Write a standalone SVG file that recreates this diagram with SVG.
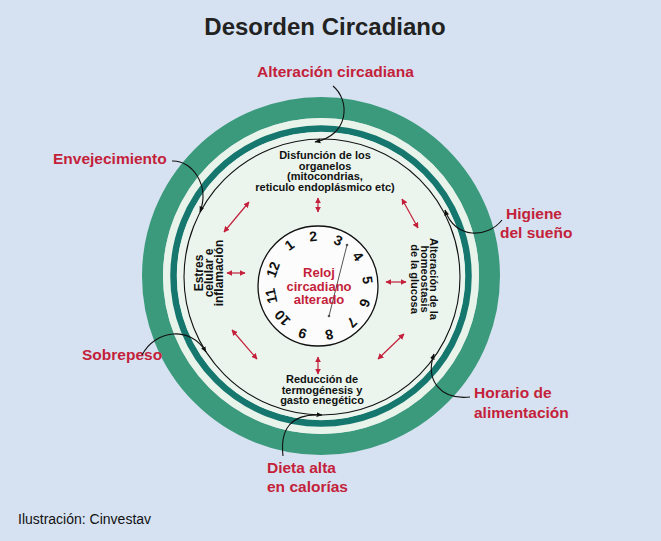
<svg xmlns="http://www.w3.org/2000/svg" width="661" height="541" viewBox="0 0 661 541">
<defs>
<style>
.lbl{font-family:"Liberation Sans",Arial,sans-serif;font-weight:bold;font-size:15.5px;fill:#c41f3b}
.in{font-family:"Liberation Sans",Arial,sans-serif;font-weight:bold;font-size:11px;fill:#111;text-anchor:middle}
.side{font-family:"Liberation Sans",Arial,sans-serif;font-weight:bold;font-size:11px;fill:#111;text-anchor:middle}
.num{font-family:"Liberation Sans",Arial,sans-serif;font-weight:bold;font-size:14px;fill:#111;text-anchor:middle;dominant-baseline:central}
.red{stroke:#c41f3b;stroke-width:1.2;fill:none;marker-start:url(#ra);marker-end:url(#ra)}
.con{stroke:#111;stroke-width:1.1;fill:none;marker-end:url(#ba)}
</style>
<marker id="ra" viewBox="0 0 10 10" refX="9" refY="5" markerWidth="6" markerHeight="6" markerUnits="userSpaceOnUse" orient="auto-start-reverse">
<path d="M0,0 L10,5 L0,10 Z" fill="#c41f3b"/>
</marker>
<marker id="ba" viewBox="0 0 10 10" refX="9" refY="5" markerWidth="6" markerHeight="6" markerUnits="userSpaceOnUse" orient="auto">
<path d="M0,1 L10,5 L0,9 Z" fill="#111"/>
</marker>
</defs>
<rect width="661" height="541" fill="#d6e2f1"/>
<text x="325" y="35" text-anchor="middle" style="font-family:'Liberation Sans',Arial,sans-serif;font-weight:bold;font-size:24px;fill:#222">Desorden Circadiano</text>

<g id="rings">
<circle cx="321" cy="276" r="168.5" fill="none" stroke="#3b9a7c" stroke-width="21"/>
<circle cx="321" cy="276" r="158" fill="#e8f3ea"/>
<circle cx="321" cy="276" r="147.5" fill="none" stroke="#16776f" stroke-width="6.5"/>
<circle cx="321" cy="276" r="144" fill="#ebf5ee"/>
<circle cx="322" cy="277" r="138" fill="none" stroke="#111" stroke-width="1.1"/>
</g>

<g id="clock">
<circle cx="318" cy="286" r="60" fill="#fbfcfb" stroke="#111" stroke-width="1.3"/>
<g transform="translate(318,286)">
<text class="num" transform="rotate(-35) translate(0,-50)">1</text>
<text class="num" transform="rotate(-5.5) translate(0,-50)">2</text>
<text class="num" transform="rotate(24) translate(0,-50)">3</text>
<text class="num" transform="rotate(53.5) translate(0,-50)">4</text>
<text class="num" transform="rotate(83) translate(0,-50)">5</text>
<text class="num" transform="rotate(110) translate(0,-50)">6</text>
<text class="num" transform="rotate(137) translate(0,-50)">7</text>
<text class="num" transform="rotate(167) translate(0,-50)">8</text>
<text class="num" transform="rotate(198) translate(0,-50)">9</text>
<text class="num" transform="rotate(228) translate(0,-48)">10</text>
<text class="num" transform="rotate(258) translate(0,-48)">11</text>
<text class="num" transform="rotate(290) translate(0,-48)">12</text>
</g>
<line x1="347" y1="245" x2="329" y2="316" stroke="#555" stroke-width="1"/>
<circle cx="347" cy="245" r="1.3" fill="#555"/>
<circle cx="329" cy="316" r="1.3" fill="#555"/>
<text text-anchor="middle" style="font-family:'Liberation Sans',Arial,sans-serif;font-weight:bold;font-size:13px;fill:#c41f3b"><tspan x="319" y="277">Reloj</tspan><tspan x="319" y="290.5">circadiano</tspan><tspan x="319" y="304">alterado</tspan></text>
</g>

<g id="organelos"><text class="in"><tspan x="325" y="159">Disfunción de los</tspan><tspan x="325" y="169.5">organelos</tspan><tspan x="325" y="180">(mitocondrias,</tspan><tspan x="325" y="190.5">reticulo endoplásmico etc)</tspan></text></g>
<g id="termogenesis"><text class="in"><tspan x="322" y="383">Reducción de</tspan><tspan x="322" y="393.5">termogénesis y</tspan><tspan x="322" y="404">gasto enegético</tspan></text></g>
<g id="estres"><text class="side" style="font-size:12px" transform="translate(203,273) rotate(-90)"><tspan x="0" y="0">Estres</tspan><tspan x="0" y="10.2">celular e</tspan><tspan x="0" y="20.4">inflamación</tspan></text></g>
<g id="glucosa"><text class="side" transform="translate(430,279) rotate(90)"><tspan x="0" y="0">Alteración de la</tspan><tspan x="0" y="9.5">homeostasis</tspan><tspan x="0" y="19">de la glucosa</tspan></text></g>

<g id="alteracion"><text class="lbl" x="257" y="77">Alteración circadiana</text></g>
<g id="envejecimiento"><text class="lbl" x="53" y="164">Envejecimiento</text></g>
<g id="higiene"><text class="lbl"><tspan x="506" y="219">Higiene</tspan><tspan x="500" y="238">del sueño</tspan></text></g>
<g id="sobrepeso"><text class="lbl" x="82" y="360">Sobrepeso</text></g>
<g id="horario"><text class="lbl"><tspan x="474" y="398">Horario de</tspan><tspan x="474" y="418">alimentación</tspan></text></g>
<g id="dieta"><text class="lbl"><tspan x="267" y="473">Dieta alta</tspan><tspan x="267" y="492">en calorías</tspan></text></g>

<text x="18" y="524" style="font-family:'Liberation Sans',Arial,sans-serif;font-size:14px;fill:#111">Ilustración: Cinvestav</text>

<g id="connectors">
<line class="red" x1="318" y1="198" x2="318" y2="212"/>
<line class="red" x1="249" y1="202" x2="224" y2="232"/>
<line class="red" x1="402" y1="199" x2="418" y2="228"/>
<line class="red" x1="227" y1="273" x2="245" y2="273"/>
<line class="red" x1="386" y1="282" x2="406" y2="282"/>
<line class="red" x1="232" y1="330" x2="257" y2="359"/>
<line class="red" x1="378" y1="359" x2="404" y2="334"/>
<line class="red" x1="318" y1="357" x2="318" y2="374"/>
<path class="con" d="M333,86 C350,100 350,135 315,142"/>
<path class="con" d="M172,161 C192,160 210,185 200,212"/>
<path class="con" d="M502,220 C488,238 455,240 445,210"/>
<path class="con" d="M142,355 C155,330 190,325 206,352"/>
<path class="con" d="M470,397 C440,400 425,380 434,354"/>
<path class="con" d="M283,456 C280,430 290,413 322,415"/>
</g>
</svg>
